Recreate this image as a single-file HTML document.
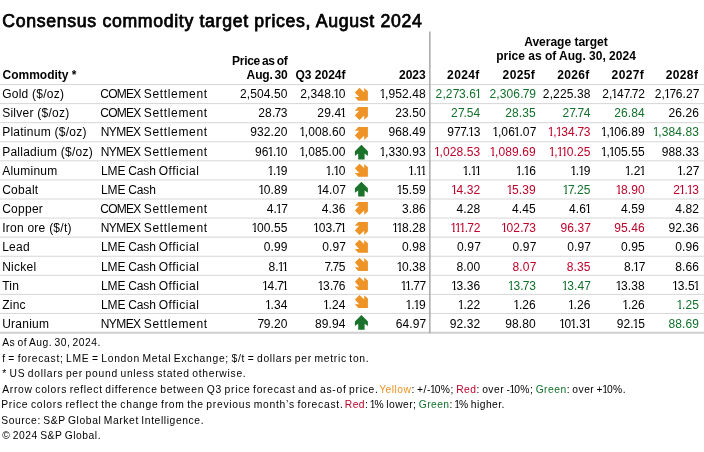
<!DOCTYPE html>
<html><head><meta charset="utf-8"><title>Consensus commodity target prices, August 2024</title>
<style>
html,body{margin:0;padding:0;background:#fff;}
body{width:704px;height:452px;position:relative;overflow:hidden;font-family:"Liberation Sans",Arial,sans-serif;color:#000;}
div{position:absolute;white-space:nowrap;}
i{font-style:normal;}
i.o{display:inline-block;line-height:1em;letter-spacing:0;margin-left:-0.092em;margin-right:-0.0975em;clip-path:polygon(0 0,0.6em 0,0.6em 0.75em,0.37em 0.75em,0.37em 1.2em,0.22em 1.2em,0.22em 0.75em,0 0.75em);}
i.s{letter-spacing:-0.38px;}
.n{letter-spacing:0.12px;}
i.s.k{letter-spacing:-1.18px;}
i.k{letter-spacing:-0.68px;}
.hl{left:0;width:704px;height:1px;background:#d6d6d6;}
.g{color:#12702a;}
.r{color:#be0029;}
svg{position:absolute;}
</style></head>
<body>
<div style="top:12.65px;font-size:17.7px;line-height:17.7px;left:2.30px;color:#000;-webkit-text-stroke:0.75px #000;letter-spacing:0.67px;">Consensus commodity target prices, August 2024</div>
<div style="top:69.00px;font-size:12px;line-height:12px;left:2.50px;font-weight:bold;">Commodity *</div>
<div style="top:55.00px;font-size:12px;line-height:12px;right:416.50px;text-align:right;font-weight:bold;letter-spacing:-0.3px;word-spacing:-1.0px;">Price as of</div>
<div style="top:69.00px;font-size:12px;line-height:12px;right:416.50px;text-align:right;font-weight:bold;letter-spacing:-0.12px;word-spacing:-1.6px;">Aug. 30</div>
<div style="top:69.00px;font-size:12px;line-height:12px;right:358.50px;text-align:right;font-weight:bold;">Q3 2024f</div>
<div style="top:69.00px;font-size:12px;line-height:12px;right:278.30px;text-align:right;font-weight:bold;">2023</div>
<div style="top:36.00px;font-size:12px;line-height:12px;left:366.00px;width:400px;text-align:center;font-weight:bold;">Average target</div>
<div style="top:50.00px;font-size:12px;line-height:12px;left:366.00px;width:400px;text-align:center;font-weight:bold;">price as of Aug. 30, 2024</div>
<div style="top:69.00px;font-size:12px;line-height:12px;right:224.45px;text-align:right;font-weight:bold;letter-spacing:0.35px;">2024f</div>
<div style="top:69.00px;font-size:12px;line-height:12px;right:168.95px;text-align:right;font-weight:bold;letter-spacing:0.35px;">2025f</div>
<div style="top:69.00px;font-size:12px;line-height:12px;right:114.35px;text-align:right;font-weight:bold;letter-spacing:0.35px;">2026f</div>
<div style="top:69.00px;font-size:12px;line-height:12px;right:59.95px;text-align:right;font-weight:bold;letter-spacing:0.35px;">2027f</div>
<div style="top:69.00px;font-size:12px;line-height:12px;right:5.75px;text-align:right;font-weight:bold;letter-spacing:0.35px;">2028f</div>
<svg style="left:0;top:0" width="704" height="452" viewBox="0 0 704 452"><line x1="0" y1="84.55" x2="704" y2="84.55" stroke="#d6d6d6" stroke-width="1"/><line x1="0" y1="103.62" x2="704" y2="103.62" stroke="#d6d6d6" stroke-width="1"/><line x1="0" y1="122.70" x2="704" y2="122.70" stroke="#d6d6d6" stroke-width="1"/><line x1="0" y1="141.77" x2="704" y2="141.77" stroke="#d6d6d6" stroke-width="1"/><line x1="0" y1="160.85" x2="704" y2="160.85" stroke="#d6d6d6" stroke-width="1"/><line x1="0" y1="179.93" x2="704" y2="179.93" stroke="#d6d6d6" stroke-width="1"/><line x1="0" y1="199.00" x2="704" y2="199.00" stroke="#d6d6d6" stroke-width="1"/><line x1="0" y1="218.07" x2="704" y2="218.07" stroke="#d6d6d6" stroke-width="1"/><line x1="0" y1="237.15" x2="704" y2="237.15" stroke="#d6d6d6" stroke-width="1"/><line x1="0" y1="256.22" x2="704" y2="256.22" stroke="#d6d6d6" stroke-width="1"/><line x1="0" y1="275.30" x2="704" y2="275.30" stroke="#d6d6d6" stroke-width="1"/><line x1="0" y1="294.38" x2="704" y2="294.38" stroke="#d6d6d6" stroke-width="1"/><line x1="0" y1="313.45" x2="704" y2="313.45" stroke="#d6d6d6" stroke-width="1"/><line x1="0" y1="332.72" x2="704" y2="332.72" stroke="#cfcfcf" stroke-width="1.9"/><line x1="429.8" y1="31.5" x2="429.8" y2="333.22" stroke="#b0b0b0" stroke-width="1.7"/></svg>
<div style="top:88.00px;font-size:12px;line-height:12px;left:2.20px;letter-spacing:0.25px;">Gold ($/oz)</div>
<div style="top:88.00px;font-size:12px;line-height:12px;left:100.19px;letter-spacing:-0.711px;">COMEX</div>
<div style="top:88.00px;font-size:12px;line-height:12px;left:143.76px;letter-spacing:0.663px;">Settlement</div>
<div class="n" style="top:88.00px;font-size:12px;line-height:12px;right:416.38px;text-align:right;">2,504.50</div>
<div class="n" style="top:88.00px;font-size:12px;line-height:12px;right:358.38px;text-align:right;">2,348.<i class="o">1</i>0</div>
<div class="n" style="top:88.00px;font-size:12px;line-height:12px;right:278.18px;text-align:right;"><i class="o">1</i>,952.48</div>
<div class="n g" style="top:88.00px;font-size:12px;line-height:12px;right:223.58px;text-align:right;">2,2<i class="s">7</i>3.6<i class="o">1</i></div>
<div class="n g" style="top:88.00px;font-size:12px;line-height:12px;right:168.08px;text-align:right;">2,306<i class="k">.</i><i class="s">7</i>9</div>
<div class="n" style="top:88.00px;font-size:12px;line-height:12px;right:113.48px;text-align:right;">2,225.38</div>
<div class="n" style="top:88.00px;font-size:12px;line-height:12px;right:59.08px;text-align:right;">2,<i class="o">1</i>4<i class="s k">7</i><i class="k">.</i><i class="s">7</i>2</div>
<div class="n" style="top:88.00px;font-size:12px;line-height:12px;right:4.88px;text-align:right;">2,<i class="o">1</i><i class="s">7</i>6.2<i class="s">7</i></div>
<div style="top:107.00px;font-size:12px;line-height:12px;left:2.20px;letter-spacing:0.25px;">Silver ($/oz)</div>
<div style="top:107.00px;font-size:12px;line-height:12px;left:100.19px;letter-spacing:-0.711px;">COMEX</div>
<div style="top:107.00px;font-size:12px;line-height:12px;left:143.76px;letter-spacing:0.663px;">Settlement</div>
<div class="n" style="top:107.00px;font-size:12px;line-height:12px;right:416.38px;text-align:right;">28<i class="k">.</i><i class="s">7</i>3</div>
<div class="n" style="top:107.00px;font-size:12px;line-height:12px;right:358.38px;text-align:right;">29.4<i class="o">1</i></div>
<div class="n" style="top:107.00px;font-size:12px;line-height:12px;right:278.18px;text-align:right;">23.50</div>
<div class="n g" style="top:107.00px;font-size:12px;line-height:12px;right:223.58px;text-align:right;">2<i class="s k">7</i>.54</div>
<div class="n g" style="top:107.00px;font-size:12px;line-height:12px;right:168.08px;text-align:right;">28.35</div>
<div class="n g" style="top:107.00px;font-size:12px;line-height:12px;right:113.48px;text-align:right;">2<i class="s k">7</i><i class="k">.</i><i class="s">7</i>4</div>
<div class="n g" style="top:107.00px;font-size:12px;line-height:12px;right:59.08px;text-align:right;">26.84</div>
<div class="n" style="top:107.00px;font-size:12px;line-height:12px;right:4.88px;text-align:right;">26.26</div>
<div style="top:126.00px;font-size:12px;line-height:12px;left:2.20px;letter-spacing:0.25px;">Platinum ($/oz)</div>
<div style="top:126.00px;font-size:12px;line-height:12px;left:100.82px;letter-spacing:-0.609px;">NYMEX</div>
<div style="top:126.00px;font-size:12px;line-height:12px;left:143.76px;letter-spacing:0.663px;">Settlement</div>
<div class="n" style="top:126.00px;font-size:12px;line-height:12px;right:416.38px;text-align:right;">932.20</div>
<div class="n" style="top:126.00px;font-size:12px;line-height:12px;right:358.38px;text-align:right;"><i class="o">1</i>,008.60</div>
<div class="n" style="top:126.00px;font-size:12px;line-height:12px;right:278.18px;text-align:right;">968.49</div>
<div class="n" style="top:126.00px;font-size:12px;line-height:12px;right:223.58px;text-align:right;">9<i class="s">7</i><i class="s k">7</i>.<i class="o">1</i>3</div>
<div class="n" style="top:126.00px;font-size:12px;line-height:12px;right:168.08px;text-align:right;"><i class="o">1</i>,06<i class="o">1</i>.0<i class="s">7</i></div>
<div class="n r" style="top:126.00px;font-size:12px;line-height:12px;right:113.48px;text-align:right;"><i class="o">1</i>,<i class="o">1</i>34<i class="k">.</i><i class="s">7</i>3</div>
<div class="n" style="top:126.00px;font-size:12px;line-height:12px;right:59.08px;text-align:right;"><i class="o">1</i>,<i class="o">1</i>06.89</div>
<div class="n g" style="top:126.00px;font-size:12px;line-height:12px;right:4.88px;text-align:right;"><i class="o">1</i>,384.83</div>
<div style="top:146.00px;font-size:12px;line-height:12px;left:2.20px;letter-spacing:0.25px;">Palladium ($/oz)</div>
<div style="top:146.00px;font-size:12px;line-height:12px;left:100.82px;letter-spacing:-0.609px;">NYMEX</div>
<div style="top:146.00px;font-size:12px;line-height:12px;left:143.76px;letter-spacing:0.663px;">Settlement</div>
<div class="n" style="top:146.00px;font-size:12px;line-height:12px;right:416.38px;text-align:right;">96<i class="o">1</i>.<i class="o">1</i>0</div>
<div class="n" style="top:146.00px;font-size:12px;line-height:12px;right:358.38px;text-align:right;"><i class="o">1</i>,085.00</div>
<div class="n" style="top:146.00px;font-size:12px;line-height:12px;right:278.18px;text-align:right;"><i class="o">1</i>,330.93</div>
<div class="n r" style="top:146.00px;font-size:12px;line-height:12px;right:223.58px;text-align:right;"><i class="o">1</i>,028.53</div>
<div class="n r" style="top:146.00px;font-size:12px;line-height:12px;right:168.08px;text-align:right;"><i class="o">1</i>,089.69</div>
<div class="n r" style="top:146.00px;font-size:12px;line-height:12px;right:113.48px;text-align:right;"><i class="o">1</i>,<i class="o">1</i><i class="o">1</i>0.25</div>
<div class="n" style="top:146.00px;font-size:12px;line-height:12px;right:59.08px;text-align:right;"><i class="o">1</i>,<i class="o">1</i>05.55</div>
<div class="n" style="top:146.00px;font-size:12px;line-height:12px;right:4.88px;text-align:right;">988.33</div>
<div style="top:165.00px;font-size:12px;line-height:12px;left:2.20px;letter-spacing:0.25px;">Aluminum</div>
<div style="top:165.00px;font-size:12px;line-height:12px;left:100.92px;letter-spacing:-0.087px;">LME</div>
<div style="top:165.00px;font-size:12px;line-height:12px;left:128.19px;letter-spacing:-0.108px;">Cash</div>
<div style="top:165.00px;font-size:12px;line-height:12px;left:158.73px;letter-spacing:0.528px;">Official</div>
<div class="n" style="top:165.00px;font-size:12px;line-height:12px;right:416.38px;text-align:right;"><i class="o">1</i>.<i class="o">1</i>9</div>
<div class="n" style="top:165.00px;font-size:12px;line-height:12px;right:358.38px;text-align:right;"><i class="o">1</i>.<i class="o">1</i>0</div>
<div class="n" style="top:165.00px;font-size:12px;line-height:12px;right:278.18px;text-align:right;"><i class="o">1</i>.<i class="o">1</i><i class="o">1</i></div>
<div class="n" style="top:165.00px;font-size:12px;line-height:12px;right:223.58px;text-align:right;"><i class="o">1</i>.<i class="o">1</i><i class="o">1</i></div>
<div class="n" style="top:165.00px;font-size:12px;line-height:12px;right:168.08px;text-align:right;"><i class="o">1</i>.<i class="o">1</i>6</div>
<div class="n" style="top:165.00px;font-size:12px;line-height:12px;right:113.48px;text-align:right;"><i class="o">1</i>.<i class="o">1</i>9</div>
<div class="n" style="top:165.00px;font-size:12px;line-height:12px;right:59.08px;text-align:right;"><i class="o">1</i>.2<i class="o">1</i></div>
<div class="n" style="top:165.00px;font-size:12px;line-height:12px;right:4.88px;text-align:right;"><i class="o">1</i>.2<i class="s">7</i></div>
<div style="top:184.00px;font-size:12px;line-height:12px;left:2.20px;letter-spacing:0.25px;">Cobalt</div>
<div style="top:184.00px;font-size:12px;line-height:12px;left:100.92px;letter-spacing:-0.087px;">LME</div>
<div style="top:184.00px;font-size:12px;line-height:12px;left:128.19px;letter-spacing:-0.108px;">Cash</div>
<div class="n" style="top:184.00px;font-size:12px;line-height:12px;right:416.38px;text-align:right;"><i class="o">1</i>0.89</div>
<div class="n" style="top:184.00px;font-size:12px;line-height:12px;right:358.38px;text-align:right;"><i class="o">1</i>4.0<i class="s">7</i></div>
<div class="n" style="top:184.00px;font-size:12px;line-height:12px;right:278.18px;text-align:right;"><i class="o">1</i>5.59</div>
<div class="n r" style="top:184.00px;font-size:12px;line-height:12px;right:223.58px;text-align:right;"><i class="o">1</i>4.32</div>
<div class="n r" style="top:184.00px;font-size:12px;line-height:12px;right:168.08px;text-align:right;"><i class="o">1</i>5.39</div>
<div class="n g" style="top:184.00px;font-size:12px;line-height:12px;right:113.48px;text-align:right;"><i class="o">1</i><i class="s k">7</i>.25</div>
<div class="n r" style="top:184.00px;font-size:12px;line-height:12px;right:59.08px;text-align:right;"><i class="o">1</i>8.90</div>
<div class="n r" style="top:184.00px;font-size:12px;line-height:12px;right:4.88px;text-align:right;">2<i class="o">1</i>.<i class="o">1</i>3</div>
<div style="top:203.00px;font-size:12px;line-height:12px;left:2.20px;letter-spacing:0.25px;">Copper</div>
<div style="top:203.00px;font-size:12px;line-height:12px;left:100.19px;letter-spacing:-0.711px;">COMEX</div>
<div style="top:203.00px;font-size:12px;line-height:12px;left:143.76px;letter-spacing:0.663px;">Settlement</div>
<div class="n" style="top:203.00px;font-size:12px;line-height:12px;right:416.38px;text-align:right;">4.<i class="o">1</i><i class="s">7</i></div>
<div class="n" style="top:203.00px;font-size:12px;line-height:12px;right:358.38px;text-align:right;">4.36</div>
<div class="n" style="top:203.00px;font-size:12px;line-height:12px;right:278.18px;text-align:right;">3.86</div>
<div class="n" style="top:203.00px;font-size:12px;line-height:12px;right:223.58px;text-align:right;">4.28</div>
<div class="n" style="top:203.00px;font-size:12px;line-height:12px;right:168.08px;text-align:right;">4.45</div>
<div class="n" style="top:203.00px;font-size:12px;line-height:12px;right:113.48px;text-align:right;">4.6<i class="o">1</i></div>
<div class="n" style="top:203.00px;font-size:12px;line-height:12px;right:59.08px;text-align:right;">4.59</div>
<div class="n" style="top:203.00px;font-size:12px;line-height:12px;right:4.88px;text-align:right;">4.82</div>
<div style="top:222.00px;font-size:12px;line-height:12px;left:2.20px;letter-spacing:0.25px;">Iron ore ($/t)</div>
<div style="top:222.00px;font-size:12px;line-height:12px;left:100.82px;letter-spacing:-0.609px;">NYMEX</div>
<div style="top:222.00px;font-size:12px;line-height:12px;left:143.76px;letter-spacing:0.663px;">Settlement</div>
<div class="n" style="top:222.00px;font-size:12px;line-height:12px;right:416.38px;text-align:right;"><i class="o">1</i>00.55</div>
<div class="n" style="top:222.00px;font-size:12px;line-height:12px;right:358.38px;text-align:right;"><i class="o">1</i>03<i class="k">.</i><i class="s">7</i><i class="o">1</i></div>
<div class="n" style="top:222.00px;font-size:12px;line-height:12px;right:278.18px;text-align:right;"><i class="o">1</i><i class="o">1</i>8.28</div>
<div class="n r" style="top:222.00px;font-size:12px;line-height:12px;right:223.58px;text-align:right;"><i class="o">1</i><i class="o">1</i><i class="o">1</i><i class="k">.</i><i class="s">7</i>2</div>
<div class="n r" style="top:222.00px;font-size:12px;line-height:12px;right:168.08px;text-align:right;"><i class="o">1</i>02<i class="k">.</i><i class="s">7</i>3</div>
<div class="n r" style="top:222.00px;font-size:12px;line-height:12px;right:113.48px;text-align:right;">96.3<i class="s">7</i></div>
<div class="n r" style="top:222.00px;font-size:12px;line-height:12px;right:59.08px;text-align:right;">95.46</div>
<div class="n" style="top:222.00px;font-size:12px;line-height:12px;right:4.88px;text-align:right;">92.36</div>
<div style="top:241.00px;font-size:12px;line-height:12px;left:2.20px;letter-spacing:0.25px;">Lead</div>
<div style="top:241.00px;font-size:12px;line-height:12px;left:100.92px;letter-spacing:-0.087px;">LME</div>
<div style="top:241.00px;font-size:12px;line-height:12px;left:128.19px;letter-spacing:-0.108px;">Cash</div>
<div style="top:241.00px;font-size:12px;line-height:12px;left:158.73px;letter-spacing:0.528px;">Official</div>
<div class="n" style="top:241.00px;font-size:12px;line-height:12px;right:416.38px;text-align:right;">0.99</div>
<div class="n" style="top:241.00px;font-size:12px;line-height:12px;right:358.38px;text-align:right;">0.9<i class="s">7</i></div>
<div class="n" style="top:241.00px;font-size:12px;line-height:12px;right:278.18px;text-align:right;">0.98</div>
<div class="n" style="top:241.00px;font-size:12px;line-height:12px;right:223.58px;text-align:right;">0.9<i class="s">7</i></div>
<div class="n" style="top:241.00px;font-size:12px;line-height:12px;right:168.08px;text-align:right;">0.9<i class="s">7</i></div>
<div class="n" style="top:241.00px;font-size:12px;line-height:12px;right:113.48px;text-align:right;">0.9<i class="s">7</i></div>
<div class="n" style="top:241.00px;font-size:12px;line-height:12px;right:59.08px;text-align:right;">0.95</div>
<div class="n" style="top:241.00px;font-size:12px;line-height:12px;right:4.88px;text-align:right;">0.96</div>
<div style="top:261.00px;font-size:12px;line-height:12px;left:2.20px;letter-spacing:0.25px;">Nickel</div>
<div style="top:261.00px;font-size:12px;line-height:12px;left:100.92px;letter-spacing:-0.087px;">LME</div>
<div style="top:261.00px;font-size:12px;line-height:12px;left:128.19px;letter-spacing:-0.108px;">Cash</div>
<div style="top:261.00px;font-size:12px;line-height:12px;left:158.73px;letter-spacing:0.528px;">Official</div>
<div class="n" style="top:261.00px;font-size:12px;line-height:12px;right:416.38px;text-align:right;">8.<i class="o">1</i><i class="o">1</i></div>
<div class="n" style="top:261.00px;font-size:12px;line-height:12px;right:358.38px;text-align:right;"><i class="s k">7</i><i class="k">.</i><i class="s">7</i>5</div>
<div class="n" style="top:261.00px;font-size:12px;line-height:12px;right:278.18px;text-align:right;"><i class="o">1</i>0.38</div>
<div class="n" style="top:261.00px;font-size:12px;line-height:12px;right:223.58px;text-align:right;">8.00</div>
<div class="n r" style="top:261.00px;font-size:12px;line-height:12px;right:168.08px;text-align:right;">8.0<i class="s">7</i></div>
<div class="n r" style="top:261.00px;font-size:12px;line-height:12px;right:113.48px;text-align:right;">8.35</div>
<div class="n" style="top:261.00px;font-size:12px;line-height:12px;right:59.08px;text-align:right;">8.<i class="o">1</i><i class="s">7</i></div>
<div class="n" style="top:261.00px;font-size:12px;line-height:12px;right:4.88px;text-align:right;">8.66</div>
<div style="top:280.00px;font-size:12px;line-height:12px;left:2.20px;letter-spacing:0.25px;">Tin</div>
<div style="top:280.00px;font-size:12px;line-height:12px;left:100.92px;letter-spacing:-0.087px;">LME</div>
<div style="top:280.00px;font-size:12px;line-height:12px;left:128.19px;letter-spacing:-0.108px;">Cash</div>
<div style="top:280.00px;font-size:12px;line-height:12px;left:158.73px;letter-spacing:0.528px;">Official</div>
<div class="n" style="top:280.00px;font-size:12px;line-height:12px;right:416.38px;text-align:right;"><i class="o">1</i>4<i class="k">.</i><i class="s">7</i><i class="o">1</i></div>
<div class="n" style="top:280.00px;font-size:12px;line-height:12px;right:358.38px;text-align:right;"><i class="o">1</i>3<i class="k">.</i><i class="s">7</i>6</div>
<div class="n" style="top:280.00px;font-size:12px;line-height:12px;right:278.18px;text-align:right;"><i class="o">1</i><i class="o">1</i><i class="k">.</i><i class="s">7</i><i class="s">7</i></div>
<div class="n" style="top:280.00px;font-size:12px;line-height:12px;right:223.58px;text-align:right;"><i class="o">1</i>3.36</div>
<div class="n g" style="top:280.00px;font-size:12px;line-height:12px;right:168.08px;text-align:right;"><i class="o">1</i>3<i class="k">.</i><i class="s">7</i>3</div>
<div class="n g" style="top:280.00px;font-size:12px;line-height:12px;right:113.48px;text-align:right;"><i class="o">1</i>3.4<i class="s">7</i></div>
<div class="n" style="top:280.00px;font-size:12px;line-height:12px;right:59.08px;text-align:right;"><i class="o">1</i>3.38</div>
<div class="n" style="top:280.00px;font-size:12px;line-height:12px;right:4.88px;text-align:right;"><i class="o">1</i>3.5<i class="o">1</i></div>
<div style="top:299.00px;font-size:12px;line-height:12px;left:2.20px;letter-spacing:0.25px;">Zinc</div>
<div style="top:299.00px;font-size:12px;line-height:12px;left:100.92px;letter-spacing:-0.087px;">LME</div>
<div style="top:299.00px;font-size:12px;line-height:12px;left:128.19px;letter-spacing:-0.108px;">Cash</div>
<div style="top:299.00px;font-size:12px;line-height:12px;left:158.73px;letter-spacing:0.528px;">Official</div>
<div class="n" style="top:299.00px;font-size:12px;line-height:12px;right:416.38px;text-align:right;"><i class="o">1</i>.34</div>
<div class="n" style="top:299.00px;font-size:12px;line-height:12px;right:358.38px;text-align:right;"><i class="o">1</i>.24</div>
<div class="n" style="top:299.00px;font-size:12px;line-height:12px;right:278.18px;text-align:right;"><i class="o">1</i>.<i class="o">1</i>9</div>
<div class="n" style="top:299.00px;font-size:12px;line-height:12px;right:223.58px;text-align:right;"><i class="o">1</i>.22</div>
<div class="n" style="top:299.00px;font-size:12px;line-height:12px;right:168.08px;text-align:right;"><i class="o">1</i>.26</div>
<div class="n" style="top:299.00px;font-size:12px;line-height:12px;right:113.48px;text-align:right;"><i class="o">1</i>.26</div>
<div class="n" style="top:299.00px;font-size:12px;line-height:12px;right:59.08px;text-align:right;"><i class="o">1</i>.26</div>
<div class="n g" style="top:299.00px;font-size:12px;line-height:12px;right:4.88px;text-align:right;"><i class="o">1</i>.25</div>
<div style="top:318.00px;font-size:12px;line-height:12px;left:2.20px;letter-spacing:0.25px;">Uranium</div>
<div style="top:318.00px;font-size:12px;line-height:12px;left:100.82px;letter-spacing:-0.609px;">NYMEX</div>
<div style="top:318.00px;font-size:12px;line-height:12px;left:143.76px;letter-spacing:0.663px;">Settlement</div>
<div class="n" style="top:318.00px;font-size:12px;line-height:12px;right:416.38px;text-align:right;"><i class="s">7</i>9.20</div>
<div class="n" style="top:318.00px;font-size:12px;line-height:12px;right:358.38px;text-align:right;">89.94</div>
<div class="n" style="top:318.00px;font-size:12px;line-height:12px;right:278.18px;text-align:right;">64.9<i class="s">7</i></div>
<div class="n" style="top:318.00px;font-size:12px;line-height:12px;right:223.58px;text-align:right;">92.32</div>
<div class="n" style="top:318.00px;font-size:12px;line-height:12px;right:168.08px;text-align:right;">98.80</div>
<div class="n" style="top:318.00px;font-size:12px;line-height:12px;right:113.48px;text-align:right;"><i class="o">1</i>0<i class="o">1</i>.3<i class="o">1</i></div>
<div class="n" style="top:318.00px;font-size:12px;line-height:12px;right:59.08px;text-align:right;">92.<i class="o">1</i>5</div>
<div class="n g" style="top:318.00px;font-size:12px;line-height:12px;right:4.88px;text-align:right;">88.69</div>
<svg style="left:0;top:0" width="704" height="452" viewBox="0 0 704 452"><path transform="translate(354.9 87.80)" d="M4.6 0 L9.3 4.4 L9.3 0.2 L13 3.5 L13 13 L3.3 13 L0 9.3 L4.2 9.3 L0 4.6 Z" fill="#ee9325"/><path transform="translate(354.9 107.00)" d="M4.6 13 L9.3 8.6 L9.3 12.8 L13 9.5 L13 0 L3.3 0 L0 3.7 L4.2 3.7 L0 8.4 Z" fill="#ee9325"/><path transform="translate(354.9 127.10)" d="M4.6 13 L9.3 8.6 L9.3 12.8 L13 9.5 L13 0 L3.3 0 L0 3.7 L4.2 3.7 L0 8.4 Z" fill="#ee9325"/><path transform="translate(354.9 144.80)" d="M6.5 0 L13 6.5 L13 11.1 L9.7 8.8 L9.7 14.8 L3.3 14.8 L3.3 8.8 L0 11.1 L0 6.5 Z" fill="#1b732b"/><path transform="translate(354.9 163.70)" d="M4.6 0 L9.3 4.4 L9.3 0.2 L13 3.5 L13 13 L3.3 13 L0 9.3 L4.2 9.3 L0 4.6 Z" fill="#ee9325"/><path transform="translate(354.9 181.70)" d="M6.5 0 L13 6.5 L13 11.1 L9.7 8.8 L9.7 14.8 L3.3 14.8 L3.3 8.8 L0 11.1 L0 6.5 Z" fill="#1b732b"/><path transform="translate(354.9 202.00)" d="M4.6 13 L9.3 8.6 L9.3 12.8 L13 9.5 L13 0 L3.3 0 L0 3.7 L4.2 3.7 L0 8.4 Z" fill="#ee9325"/><path transform="translate(354.9 222.10)" d="M4.6 13 L9.3 8.6 L9.3 12.8 L13 9.5 L13 0 L3.3 0 L0 3.7 L4.2 3.7 L0 8.4 Z" fill="#ee9325"/><path transform="translate(354.9 239.70)" d="M4.6 0 L9.3 4.4 L9.3 0.2 L13 3.5 L13 13 L3.3 13 L0 9.3 L4.2 9.3 L0 4.6 Z" fill="#ee9325"/><path transform="translate(354.9 257.90)" d="M4.6 0 L9.3 4.4 L9.3 0.2 L13 3.5 L13 13 L3.3 13 L0 9.3 L4.2 9.3 L0 4.6 Z" fill="#ee9325"/><path transform="translate(354.9 277.10)" d="M4.6 0 L9.3 4.4 L9.3 0.2 L13 3.5 L13 13 L3.3 13 L0 9.3 L4.2 9.3 L0 4.6 Z" fill="#ee9325"/><path transform="translate(354.9 295.00)" d="M4.6 0 L9.3 4.4 L9.3 0.2 L13 3.5 L13 13 L3.3 13 L0 9.3 L4.2 9.3 L0 4.6 Z" fill="#ee9325"/><path transform="translate(354.9 314.90)" d="M6.5 0 L13 6.5 L13 11.1 L9.7 8.8 L9.7 14.8 L3.3 14.8 L3.3 8.8 L0 11.1 L0 6.5 Z" fill="#1b732b"/></svg>
<div style="top:337.85px;font-size:10.3px;line-height:10.3px;left:2.20px;letter-spacing:0.495px;word-spacing:-1.0px;">As of Aug. 30, 2024.</div>
<div style="top:353.85px;font-size:10.3px;line-height:10.3px;left:2.20px;letter-spacing:0.713px;word-spacing:-1.0px;">f = forecast; LME = London Metal Exchange; $/t = dollars per metric ton.</div>
<div style="top:368.85px;font-size:10.3px;line-height:10.3px;left:2.20px;letter-spacing:0.730px;word-spacing:-1.0px;">* US dollars per pound unless stated otherwise.</div>
<div style="top:384.85px;font-size:10.3px;line-height:10.3px;left:2.20px;letter-spacing:0.723px;word-spacing:-1.0px;">Arrow colors reflect difference between Q3 price forecast and as-of price.</div>
<div style="top:384.85px;font-size:10.3px;line-height:10.3px;left:379.20px;letter-spacing:0.475px;word-spacing:-1.0px;"><span style="color:#ee9325">Yellow</span>: +/-<i class="o">1</i>0%; <span style="color:#be0029">Red</span>: over -<i class="o">1</i>0%; <span style="color:#12702a">Green</span>: over +<i class="o">1</i>0%.</div>
<div style="top:399.85px;font-size:10.3px;line-height:10.3px;left:1.20px;letter-spacing:0.736px;word-spacing:-1.0px;">Price colors reflect the change from the previous month’s forecast.</div>
<div style="top:399.85px;font-size:10.3px;line-height:10.3px;left:344.80px;letter-spacing:0.439px;word-spacing:-1.0px;"><span style="color:#be0029">Red</span>: <i class="o">1</i>% lower; <span style="color:#12702a">Green</span>: <i class="o">1</i>% higher.</div>
<div style="top:415.85px;font-size:10.3px;line-height:10.3px;left:1.20px;letter-spacing:0.600px;word-spacing:-1.0px;">Source: S&amp;P Global Market Intelligence.</div>
<div style="top:430.85px;font-size:10.3px;line-height:10.3px;left:2.20px;letter-spacing:0.541px;word-spacing:-1.0px;">© 2024 S&amp;P Global.</div>
</body></html>
